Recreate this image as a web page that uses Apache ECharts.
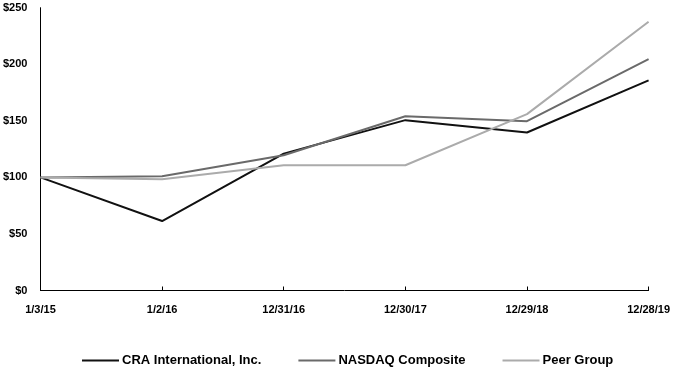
<!DOCTYPE html>
<html>
<head>
<meta charset="utf-8">
<script src="https://cdn.jsdelivr.net/npm/echarts@6/dist/echarts.min.js"></script>
<style>html,body{margin:0;padding:0;background:#fff}#c{width:673px;height:367px}</style>
</head>
<body>
<div id="c"></div>
<script>
var categories = ['1/3/15', '1/2/16', '12/31/16', '12/30/17', '12/29/18', '12/28/19'];
var craValues = [100, 61.4, 121, 150.6, 139.7, 185.7];
var nasdaqValues = [100, 101, 119.6, 154, 149.7, 204.6];
var peerValues = [100, 98.3, 110.7, 110.7, 155.9, 237.6];
var seriesNames = ['CRA International, Inc.', 'NASDAQ Composite', 'Peer Group'];

var font = '"Liberation Sans", Arial, sans-serif';
var chart = echarts.init(document.getElementById('c'), null, {renderer: 'canvas'});
function mk(name, data, color) {
  return {name: name, type: 'line', data: data, symbol: 'none',
    lineStyle: {color: color, width: 2}, itemStyle: {color: color}, animation: false};
}
chart.setOption({
  animation: false,
  grid: {left: 39, right: 23, top: 7.7, bottom: 76.5, containLabel: false},
  legend: {
    top: 349, left: 77,
    itemWidth: 37, itemHeight: 10, itemGap: 37,
    icon: 'path://M0,4 L36,4 L36,6 L0,6 Z',
    textStyle: {fontFamily: font, fontWeight: 'bold', fontSize: 13, color: '#000', padding: [0, 0, 0, -2]},
    data: seriesNames
  },
  xAxis: {
    type: 'category', data: categories, boundaryGap: false,
    axisLine: {lineStyle: {color: '#000', width: 1}},
    axisTick: {inside: true, length: 4, lineStyle: {color: '#000'}, alignWithLabel: true},
    axisLabel: {fontFamily: font, fontWeight: 'bold', fontSize: 11, color: '#000', margin: 14, showMaxLabel: true, showMinLabel: true, interval: 0},
    splitLine: {show: false}
  },
  yAxis: {
    type: 'value', min: 0, max: 250, interval: 50,
    axisLine: {show: true, lineStyle: {color: '#000', width: 1}},
    axisTick: {show: false},
    splitLine: {show: false},
    axisLabel: {fontFamily: font, fontWeight: 'bold', fontSize: 11, color: '#000', margin: 13,
      formatter: function (v) { return '$' + v; }}
  },
  series: [
    mk(seriesNames[0], craValues, '#111111'),
    mk(seriesNames[1], nasdaqValues, '#6a6a6a'),
    mk(seriesNames[2], peerValues, '#ababab')
  ]
});
</script>
</body>
</html>
